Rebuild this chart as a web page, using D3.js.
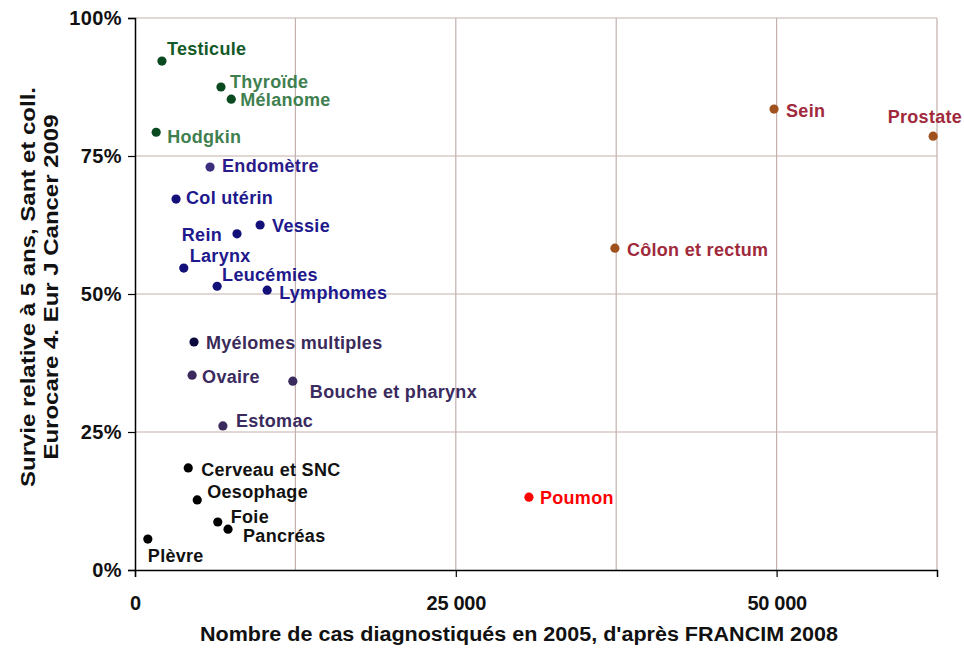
<!DOCTYPE html>
<html><head><meta charset="utf-8">
<script src="https://cdn.jsdelivr.net/npm/d3@7"></script>
<style>body{margin:0;background:#fff}svg{display:block;font-family:"Liberation Sans",Arial,sans-serif}</style>
</head><body><div id="chart"></div>
<script>
const categories = ["Testicule","Thyroïde","Mélanome","Hodgkin","Endomètre","Col utérin","Vessie","Rein","Larynx","Leucémies","Lymphomes","Myélomes multiples","Ovaire","Bouche et pharynx","Estomac","Cerveau et SNC","Oesophage","Foie","Pancréas","Plèvre","Poumon","Côlon et rectum","Sein","Prostate"];
const cases = [2100,6700,7500,1650,5850,3200,9750,7950,3800,6400,10300,4600,4450,12300,6850,4150,4850,6450,7250,1000,30700,37400,49800,62200];
const survival = [92.2,87.5,85.3,79.3,73.0,67.2,62.5,60.9,54.7,51.4,50.7,41.3,35.3,34.2,26.1,18.5,12.7,8.7,7.4,5.6,13.2,58.3,83.5,78.6];
const groups = ["t","g","g","g","p","b","b","b","b","b","b","n","v","v","v","k","k","k","k","k","r","o","o","o"];
const xTicks = [0,25000,50000];
const xGrid = [12500,25000,37500,50000,62500];
const yTicks = [0,0.25,0.5,0.75,1];
const xTitle = "Nombre de cas diagnostiqués en 2005, d'après FRANCIM 2008";
const yTitle = ["Survie relative à 5 ans, Sant et coll.","Eurocare 4. Eur J Cancer 2009"];

// styling (not data)
const dotColor = {t:"#0a4a20",g:"#0a4a20",p:"#3d2d7d",b:"#14107a",n:"#0c0a3c",v:"#3a2a5e",k:"#000000",r:"#ff0000",o:"#a0521e"};
const textColor = {t:"#145a28",g:"#3f7f50",p:"#2a1a8a",b:"#20188c",n:"#3a2a5a",v:"#3a2a5e",k:"#111111",r:"#ff0000",o:"#a02a3c"};
// label offsets in px: [dx, dy, anchor]
const labelLayout = [[5,-12,"start"],[9,-5,"start"],[9,1,"start"],[11,4,"start"],[12,-1,"start"],[10,-1,"start"],[12,1,"start"],[-15,1,"end"],[6,-12,"start"],[5,-12,"start"],[12,3,"start"],[12,1,"start"],[10,2,"start"],[17,10,"start"],[13,-5,"start"],[13,2,"start"],[10,-8,"start"],[13,-5,"start"],[15,7,"start"],[0,17,"start"],[11,1,"start"],[12,2,"start"],[12,2,"start"],[29,-19,"end"]];

const W = 964, H = 648;
const m = {left:135, right:27, top:18, bottom:78};
const svg = d3.select("#chart").append("svg").attr("width",W).attr("height",H);
const x = d3.scaleLinear().domain([0,62500]).range([m.left, W-m.right]);
const y = d3.scaleLinear().domain([0,1]).range([H-m.bottom, m.top]);
const gridColor = "#c4b0ac";

// grid
svg.append("g").selectAll("line").data(xGrid).join("line")
  .attr("x1",d=>x(d)).attr("x2",d=>x(d)).attr("y1",y(0)).attr("y2",y(1))
  .attr("stroke",gridColor).attr("stroke-width",1.2);
svg.append("g").selectAll("line").data(yTicks.slice(1)).join("line")
  .attr("x1",x(0)).attr("x2",x(62500)).attr("y1",d=>y(d)).attr("y2",d=>y(d))
  .attr("stroke",gridColor).attr("stroke-width",1.2);

// axes
const fmt = d => d3.format(",")(d).replace(/,/g," ");
const xAxis = svg.append("g").attr("transform",`translate(0,${y(0)})`)
  .call(d3.axisBottom(x).tickValues(xTicks).tickFormat(fmt).tickSize(7).tickPadding(19));
const yAxis = svg.append("g").attr("transform",`translate(${x(0)},0)`)
  .call(d3.axisLeft(y).tickValues(yTicks).tickFormat(d3.format(".0%")).tickSize(7).tickPadding(6));
[xAxis,yAxis].forEach(a=>{
  a.select(".domain").attr("stroke","#000").attr("stroke-width",1.5);
  a.selectAll(".tick line").attr("stroke","#000").attr("stroke-width",1.2);
  a.selectAll(".tick text").attr("font-size",20).attr("font-weight","bold").attr("fill","#111")
   .attr("letter-spacing","0.4px").attr("font-family","'Liberation Sans',Arial,sans-serif");
});
xAxis.selectAll(".tick text").attr("letter-spacing","-0.3px").attr("font-size",20);

// titles
svg.append("text").attr("x",519).attr("y",641).attr("text-anchor","middle")
  .attr("font-size",20).attr("font-weight","bold").attr("fill","#111")
  .attr("textLength",638).attr("lengthAdjust","spacingAndGlyphs").text(xTitle);
const yt = svg.append("text").attr("transform","translate(0,287) rotate(-90)")
  .attr("text-anchor","middle").attr("font-size",21).attr("font-weight","bold").attr("fill","#111");
yt.append("tspan").attr("x",0).attr("y",35).attr("textLength",400).attr("lengthAdjust","spacingAndGlyphs").text(yTitle[0]);
yt.append("tspan").attr("x",0).attr("y",58).attr("textLength",345).attr("lengthAdjust","spacingAndGlyphs").text(yTitle[1]);

// points
const idx = d3.range(categories.length);
svg.append("g").selectAll("circle").data(idx).join("circle")
  .attr("cx",i=>x(cases[i])).attr("cy",i=>y(survival[i]/100)).attr("r",4.6)
  .attr("fill",i=>dotColor[groups[i]]);
svg.append("g").selectAll("text").data(idx).join("text")
  .attr("x",i=>x(cases[i])+labelLayout[i][0]).attr("y",i=>y(survival[i]/100)+labelLayout[i][1])
  .attr("dy","0.35em").attr("text-anchor",i=>labelLayout[i][2])
  .attr("font-size",18).attr("letter-spacing","0.3px").attr("font-weight","bold").attr("fill",i=>textColor[groups[i]])
  .text(i=>categories[i]);
</script></body></html>
